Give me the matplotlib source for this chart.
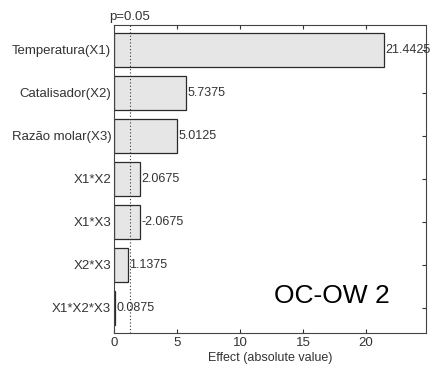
import matplotlib.pyplot as plt
import numpy as np

plt.rcParams['font.family'] = ['Liberation Sans', 'DejaVu Sans']

terms = ['Temperatura(X1)', 'Catalisador(X2)', 'Razão molar(X3)',
         'X1*X2', 'X1*X3', 'X2*X3', 'X1*X2*X3']
effects = [21.4425, 5.7375, 5.0125, 2.0675, -2.0675, 1.1375, 0.0875]
p_limit = 1.27
x_ticks = [0, 5, 10, 15, 20]

fig = plt.figure(figsize=(4.35, 3.72), dpi=100)
ax = fig.add_axes([0.262, 0.105, 0.717, 0.828])

pos = np.arange(1, len(terms) + 1)
vals = np.abs(effects)
ax.barh(pos, vals, height=0.8, color='#e6e6e6', edgecolor='#2a2a2a', linewidth=0.9)
for y, v, e in zip(pos, vals, effects):
    ax.text(v + 0.08, y, f'{e:g}', va='center', ha='left', fontsize=9, color='#333333')

ax.axvline(p_limit, color='#333333', linestyle=(0, (1, 2)), linewidth=0.8)
ax.text(p_limit, 1.005, 'p=0.05', transform=ax.get_xaxis_transform(),
        ha='center', va='bottom', fontsize=9.5, color='#333333')

ax.set_xlim(0, 24.75)
ax.set_ylim(7.58, 0.42)
ax.set_xticks(x_ticks)
ax.set_yticks(pos)
ax.set_yticklabels(terms)
ax.tick_params(axis='both', direction='in', labelsize=9.5, colors='#333333', length=3,
               top=True, right=True, left=False, pad=3)
ax.tick_params(axis='y', pad=2)
ax.set_xlabel('Effect (absolute value)', fontsize=9, color='#333333', labelpad=2)
for s in ax.spines.values():
    s.set_color('#444444')
    s.set_linewidth(0.8)

ax.text(0.885, 0.12, 'OC-OW 2', transform=ax.transAxes, ha='right', va='center',
        fontsize=19, color='black')

fig.savefig('out.png', dpi=100)
